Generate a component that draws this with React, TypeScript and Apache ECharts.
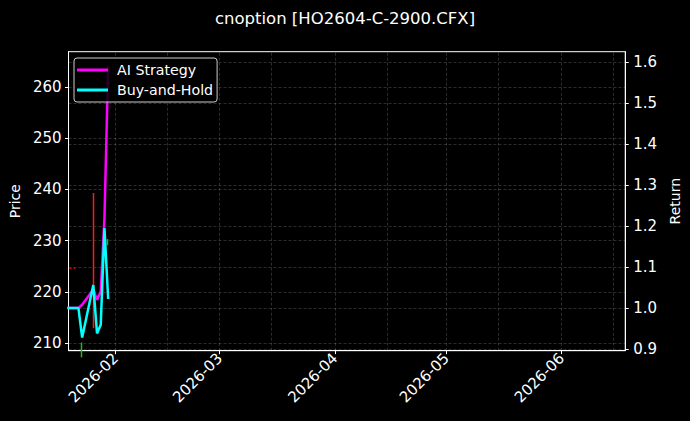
import React, { useRef, useEffect } from 'react';
import * as echarts from 'echarts';

// trading days shown on the chart
const dates = [
  '2026-01-19', '2026-01-20', '2026-01-21', '2026-01-22', '2026-01-23',
  '2026-01-26', '2026-01-27', '2026-01-28', '2026-01-29', '2026-01-30',
];
const aiStrategy = [1.0, 1.0, 1.0, 1.0, 1.008, 1.045, 1.02, 1.04, 1.22, 1.59];
const buyAndHold = [1.0, 1.0, 1.0, 1.0, 0.928, 1.056, 0.938, 0.959, 1.195, 1.022];

// candles: open / close / low / high
const candleDates = ['2026-01-20', '2026-01-21', '2026-01-23', '2026-01-26', '2026-01-30'];
const candleOpen = [224.6, 224.6, 210.1, 213.5, 230.1];
const candleClose = [224.6, 224.6, 208.4, 237.2, 229.3];
const candleLow = [224.5, 224.5, 207.2, 212.9, 229.1];
const candleHigh = [224.7, 224.7, 210.1, 239.3, 230.3];

const monthTicks = ['2026-02-01', '2026-03-01', '2026-04-01', '2026-05-01', '2026-06-01'];
const midMonthLines = ['2026-02-15', '2026-03-15', '2026-04-15', '2026-05-15', '2026-06-15'];
const priceTicks = [210, 220, 230, 240, 250, 260];
const returnTicks = [0.9, 1.0, 1.1, 1.2, 1.3, 1.4, 1.5, 1.6];

const ts = (s: string) => {
  const [y, m, d] = s.split('-').map(Number);
  return new Date(y, m - 1, d).getTime();
};
const HOUR = 3600 * 1000;

const FONT = 'DejaVu Sans';
const TICK_FONT = 15;
const UP = '#ff1a1a';
const DOWN = '#14c020';
const gridLine = { color: 'rgba(255,255,255,0.25)', type: [3, 2] as number[], width: 0.7 };

const App: React.FC = () => {
  const chartRef = useRef<HTMLDivElement>(null);

  useEffect(() => {
    document.body.style.margin = '0';
    if (!chartRef.current) return;
    const chart = echarts.init(chartRef.current, undefined, { renderer: 'svg' });

    const monthValues = monthTicks.map(ts);

    chart.setOption({
      animation: false,
      backgroundColor: '#000',
      textStyle: { fontFamily: FONT },
      title: {
        text: 'cnoption [HO2604-C-2900.CFX]',
        left: 'center',
        top: 5,
        textStyle: { color: '#fff', fontSize: 16.5, fontWeight: 'normal', fontFamily: FONT },
      },
      legend: {
        data: ['AI Strategy', 'Buy-and-Hold'],
        orient: 'vertical',
        left: 74,
        top: 58,
        icon: 'rect',
        itemWidth: 31,
        itemHeight: 3,
        itemGap: 6,
        padding: [5, 4, 5, 3],
        backgroundColor: 'rgba(0,0,0,0.85)',
        borderColor: '#cccccc',
        borderWidth: 1,
        borderRadius: 3,
        textStyle: { color: '#fff', fontSize: 14.2, fontFamily: FONT, padding: [0, 0, 0, 4] },
      },
      grid: {
        left: 66.7,
        right: 60.7,
        top: 51.7,
        bottom: 70.3,
        show: true,
        borderColor: '#fff',
        borderWidth: 1,
        backgroundColor: 'transparent',
      },
      xAxis: {
        type: 'value',
        min: ts('2026-01-19') + 8 * HOUR,
        max: ts('2026-06-18') + 3 * HOUR,
        axisLine: { show: true, lineStyle: { color: '#fff' } },
        axisTick: {
          show: true,
          customValues: monthValues,
          length: 3.5,
          lineStyle: { color: '#fff' },
        },
        axisLabel: {
          customValues: monthValues,
          rotate: 45,
          margin: 5,
          color: '#fff',
          fontSize: TICK_FONT,
          fontFamily: FONT,
          formatter: (v: number) => {
            const d = new Date(v);
            return `${d.getFullYear()}-${String(d.getMonth() + 1).padStart(2, '0')}`;
          },
        },
        splitLine: { show: false },
      },
      yAxis: [
        {
          type: 'value',
          min: 208.5,
          max: 266.9,
          name: 'Price',
          nameLocation: 'middle',
          nameRotate: 90,
          nameGap: 40,
          nameTextStyle: { color: '#fff', fontSize: 14, fontFamily: FONT },
          axisLine: { show: true, lineStyle: { color: '#fff' } },
          axisTick: { show: true, customValues: priceTicks, length: 3.5, lineStyle: { color: '#fff' } },
          axisLabel: { customValues: priceTicks, color: '#fff', fontSize: TICK_FONT, margin: 7, fontFamily: FONT },
          splitLine: { show: false },
        },
        {
          type: 'value',
          min: 0.896,
          max: 1.625,
          position: 'right',
          name: 'Return',
          nameLocation: 'middle',
          nameRotate: 90,
          nameGap: 37,
          nameTextStyle: { color: '#fff', fontSize: 14, fontFamily: FONT },
          axisLine: { show: true, lineStyle: { color: '#fff' } },
          axisTick: { show: true, customValues: returnTicks, length: 3.5, lineStyle: { color: '#fff' } },
          axisLabel: {
            customValues: returnTicks,
            color: '#fff',
            fontSize: TICK_FONT,
            margin: 8,
            fontFamily: FONT,
            formatter: (v: number) => v.toFixed(1),
          },
          splitLine: { show: false },
        },
      ],
      series: [
        {
          name: 'grid-left',
          type: 'line',
          yAxisIndex: 0,
          data: [],
          silent: true,
          markLine: {
            z: 1,
            silent: true,
            symbol: ['none', 'none'],
            label: { show: false },
            lineStyle: gridLine,
            data: [
              ...monthTicks.map((t) => ({ xAxis: ts(t) })),
              ...midMonthLines.map((t) => ({ xAxis: ts(t) })),
              ...priceTicks.map((v) => ({ yAxis: v })),
            ],
          },
        },
        {
          name: 'grid-right',
          type: 'line',
          yAxisIndex: 1,
          data: [],
          silent: true,
          markLine: {
            z: 1,
            silent: true,
            symbol: ['none', 'none'],
            label: { show: false },
            lineStyle: gridLine,
            data: returnTicks.map((v) => ({ yAxis: v })),
          },
        },
        {
          name: 'Price',
          type: 'candlestick',
          yAxisIndex: 0,
          barWidth: 1,
          z: 2,
          itemStyle: {
            color: UP,
            color0: DOWN,
            borderColor: UP,
            borderColor0: DOWN,
            borderColorDoji: UP,
            borderWidth: 1.5,
          },
          data: candleDates.map((d, i) => [
            ts(d), candleOpen[i], candleClose[i], candleLow[i], candleHigh[i],
          ]),
        },
        {
          name: 'AI Strategy',
          type: 'line',
          yAxisIndex: 1,
          z: 3,
          color: '#ff00ff',
          showSymbol: false,
          lineStyle: { width: 2.5, color: '#ff00ff' },
          data: dates.map((d, i) => [ts(d), aiStrategy[i]]),
        },
        {
          name: 'Buy-and-Hold',
          type: 'line',
          yAxisIndex: 1,
          z: 4,
          color: '#00ffff',
          showSymbol: false,
          lineStyle: { width: 2.5, color: '#00ffff' },
          data: dates.map((d, i) => [ts(d), buyAndHold[i]]),
        },
      ],
    });

    return () => {
      chart.dispose();
    };
  }, []);

  return <div ref={chartRef} style={{ width: 690, height: 421 }} />;
};

export default App;
